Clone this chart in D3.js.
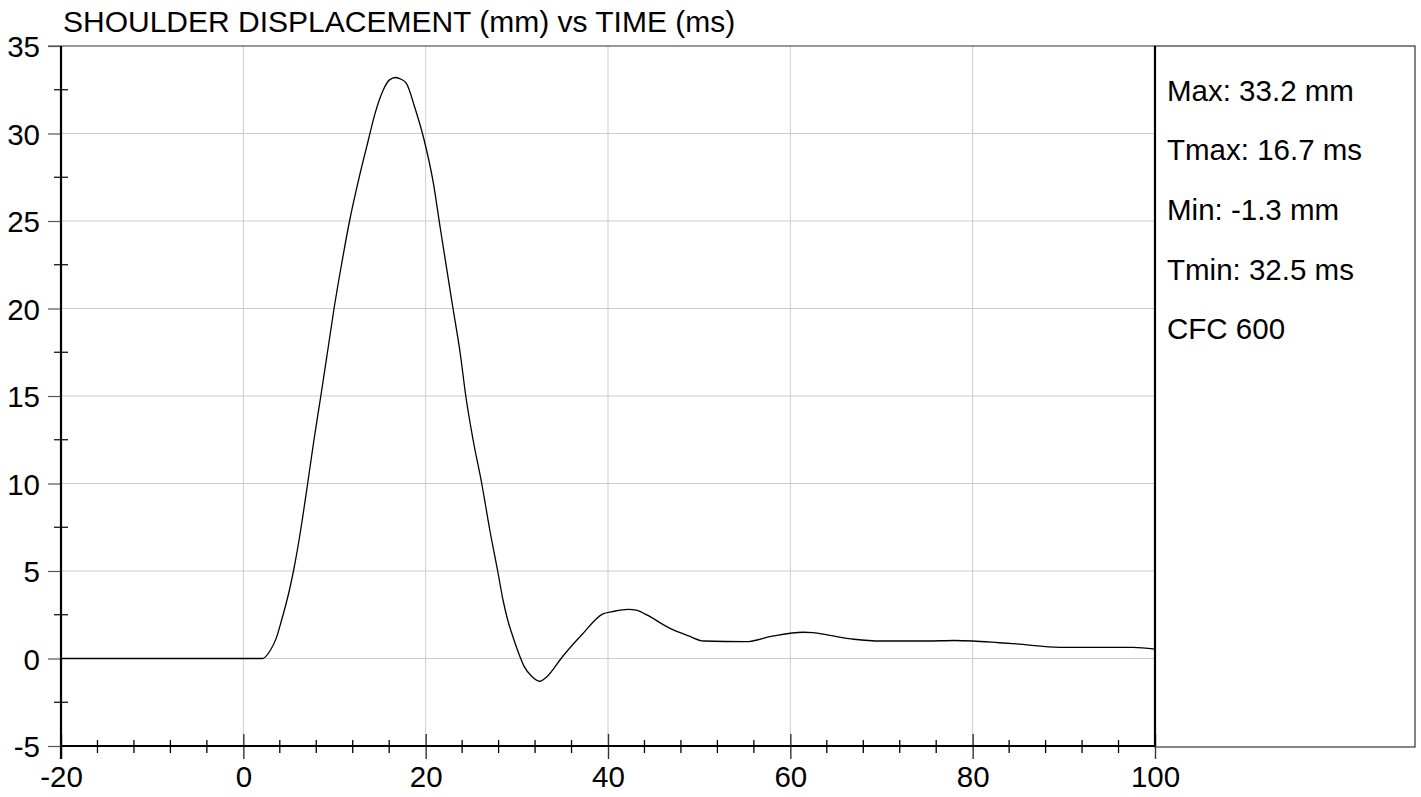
<!DOCTYPE html>
<html>
<head>
<meta charset="utf-8">
<script src="https://cdn.jsdelivr.net/npm/d3@7"></script>
<style>
    body { margin: 0; background: #fff; }
    svg text { font-family: "Liberation Sans", Arial, sans-serif; fill: #000; }
</style>
</head>
<body>
<div id="chart"></div>
<script>
// shoulder displacement trace
var timeMs = [-20, -10, 0, 2.1, 3.0, 3.6, 4.2, 5.05, 5.5, 6.4, 7.0, 7.75, 8.5, 9.2, 9.95,
    10.8, 11.65, 12.8, 13.7, 14.45, 15.36, 16.0, 16.7, 17.3, 17.9, 18.8,
    19.75, 20.85, 21.6, 23.0, 23.8, 24.4, 25.2, 26.15, 27.05, 27.9, 28.5, 29.0, 29.6,
    30.2, 30.8, 31.6, 32.5, 33.3, 35.0, 37.1, 39.4, 40.5, 42.2, 43.2, 44.25, 46.8, 48.85,
    50.5, 55.1, 58.1, 61.4, 62.5, 64.15, 67, 70, 75, 78, 80, 82.9, 84.8, 89.6, 97.6, 100];
var dispMm = [0, 0, 0, 0, 0.5, 1.15, 2.2, 3.9, 5.0, 7.7, 9.8, 12.5, 15, 17.4, 20,
    22.6, 25, 27.7, 29.6, 31.15, 32.5, 33.05, 33.2, 33.1, 32.85, 31.5,
    29.8, 27.15, 24.6, 20, 17.4, 15, 12.5, 10, 7.3, 5.0, 3.3, 2.2, 1.2,
    0.3, -0.45, -1.0, -1.3, -1.04, 0.1, 1.34, 2.54, 2.68, 2.81, 2.75, 2.49, 1.72, 1.29,
    1.0, 0.96, 1.29, 1.5, 1.48, 1.34, 1.1, 1.0, 1.0, 1.03, 1.0, 0.9, 0.83, 0.64, 0.64, 0.54];

var xTicks = [-20, 0, 20, 40, 60, 80, 100];
var yTicks = [-5, 0, 5, 10, 15, 20, 25, 30, 35];
var statLines = ["Max: 33.2 mm", "Tmax: 16.7 ms", "Min: -1.3 mm", "Tmin: 32.5 ms", "CFC 600"];
var chartTitle = "SHOULDER DISPLACEMENT (mm) vs TIME (ms)";

const W = 1421, H = 797;
const PL = 61, PR = 1155, PT = 46, PB = 746;
const PANEL_R = 1415;
const FONT = 29.5;

var svg = d3.select("#chart").append("svg")
    .attr("width", W)
    .attr("height", H);

var x = d3.scaleLinear().domain([-20, 100]).range([PL, PR]);
var y = d3.scaleLinear().domain([-5, 35]).range([PB, PT]);

// grid
svg.append("g").selectAll("line")
    .data(xTicks.slice(1, -1))
    .enter().append("line")
    .attr("x1", function (d) { return x(d); }).attr("x2", function (d) { return x(d); })
    .attr("y1", PT).attr("y2", PB)
    .style("stroke", "#cccccc").style("stroke-width", 1);

svg.append("g").selectAll("line")
    .data(yTicks.slice(1, -1))
    .enter().append("line")
    .attr("x1", PL).attr("x2", PR)
    .attr("y1", function (d) { return y(d); }).attr("y2", function (d) { return y(d); })
    .style("stroke", "#cccccc").style("stroke-width", 1);

// stats panel + top border
svg.append("rect")
    .attr("x", PR).attr("y", PT)
    .attr("width", PANEL_R - PR).attr("height", PB - PT + 1)
    .style("fill", "none").style("stroke", "#333").style("stroke-width", 1.2);
svg.append("line")
    .attr("x1", PL - 13).attr("x2", PR)
    .attr("y1", PT).attr("y2", PT)
    .style("stroke", "#333").style("stroke-width", 1.2);

// curve
var line = d3.line()
    .x(function (d) { return x(d[0]); })
    .y(function (d) { return y(d[1]); })
    .curve(d3.curveMonotoneX);

svg.append("path")
    .datum(d3.zip(timeMs, dispMm))
    .attr("d", line)
    .style("fill", "none")
    .style("stroke", "#000")
    .style("stroke-width", 1.3);

// y axis
var yAxis = d3.axisLeft(y).tickValues(yTicks).tickSize(13).tickPadding(8)
    .tickFormat(function (d) { return String(d); });
var gy = svg.append("g").attr("transform", "translate(" + PL + ",0)").call(yAxis);
gy.select(".domain").remove();
gy.selectAll(".tick line").style("stroke", "#555").style("stroke-width", 1.2);
gy.selectAll("text").style("font-size", FONT + "px").attr("x", -21).attr("dy", "0.36em");

// y minor ticks
svg.append("g").selectAll("line")
    .data(d3.range(-2.5, 35, 5))
    .enter().append("line")
    .attr("x1", PL - 7).attr("x2", PL + 7)
    .attr("y1", function (d) { return y(d); }).attr("y2", function (d) { return y(d); })
    .style("stroke", "#000").style("stroke-width", 1.2);

// x axis: major ticks cross the axis
var xAxis = d3.axisBottom(x).tickValues(xTicks).tickSize(13).tickPadding(9)
    .tickFormat(function (d) { return String(d); });
var gx = svg.append("g").attr("transform", "translate(0," + PB + ")").call(xAxis);
gx.select(".domain").remove();
gx.selectAll(".tick line").attr("y1", -12).style("stroke", "#333").style("stroke-width", 1.4);
gx.selectAll("text").style("font-size", FONT + "px").attr("y", 20).attr("dy", "0.71em");

// x minor ticks every 4 ms
svg.append("g").selectAll("line")
    .data(d3.range(-16, 100, 4).filter(function (d) { return d % 20 !== 0; }))
    .enter().append("line")
    .attr("x1", function (d) { return x(d); }).attr("x2", function (d) { return x(d); })
    .attr("y1", PB - 6).attr("y2", PB + 7)
    .style("stroke", "#000").style("stroke-width", 1.3);

// frame lines
svg.append("line").attr("x1", PL).attr("x2", PL).attr("y1", PT).attr("y2", PB + 13)
    .style("stroke", "#000").style("stroke-width", 2.2);
svg.append("line").attr("x1", PL).attr("x2", PR).attr("y1", PB).attr("y2", PB)
    .style("stroke", "#000").style("stroke-width", 2.2);
svg.append("line").attr("x1", PR).attr("x2", PR).attr("y1", PT).attr("y2", PB)
    .style("stroke", "#000").style("stroke-width", 2.2);

// title
svg.append("text")
    .attr("x", 63).attr("y", 32)
    .style("font-size", "30px")
    .text(chartTitle);

// stats text
svg.append("g").selectAll("text")
    .data(statLines)
    .enter().append("text")
    .attr("x", 1167)
    .attr("y", function (d, i) { return 100.5 + i * 59.7; })
    .style("font-size", FONT + "px")
    .text(function (d) { return d; });
</script>
</body>
</html>
